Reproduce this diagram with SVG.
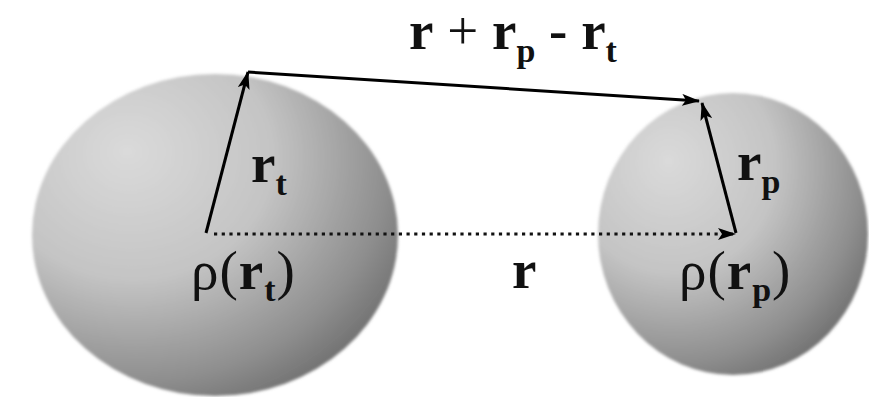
<svg xmlns="http://www.w3.org/2000/svg" width="869" height="397" viewBox="0 0 869 397">
<style>
.lbl{font-family:"Liberation Serif","Times New Roman",serif;font-size:55px;fill:#111}
.b{font-weight:bold}
.sub{font-size:34px;font-weight:bold}
.vec{stroke:#000;stroke-width:3;fill:none}
.dot{stroke:#111;stroke-width:3.2;stroke-dasharray:3.2 4.5;fill:none}
</style>
<defs>
<radialGradient id="sph" cx="0.3" cy="0.28" r="0.95" fx="0.26" fy="0.24">
<stop offset="0" stop-color="#dadada"/>
<stop offset="0.4" stop-color="#c4c4c4"/>
<stop offset="0.72" stop-color="#8e8e8e"/>
<stop offset="1" stop-color="#525252"/>
</radialGradient>
<filter id="soft" x="-5%" y="-5%" width="110%" height="110%"><feGaussianBlur stdDeviation="1.5"/></filter>
<marker id="ah" viewBox="0 0 18 12" refX="17" refY="6" markerWidth="18" markerHeight="12" markerUnits="userSpaceOnUse" orient="auto">
<path d="M0,0 L18,6 L0,12 L4,6 Z" fill="#000"/>
</marker>
</defs>
<rect width="869" height="397" fill="#fff"/>
<g id="sphere-t">
<ellipse cx="215" cy="235" rx="183" ry="161" fill="url(#sph)" filter="url(#soft)"/>
</g>
<g id="sphere-p">
<ellipse cx="733" cy="234" rx="135" ry="141" fill="url(#sph)" filter="url(#soft)"/>
</g>
<g id="connectors">
<line class="vec" x1="206" y1="233" x2="248" y2="72" marker-end="url(#ah)"/>
<line class="vec" x1="248" y1="72" x2="699" y2="101" marker-end="url(#ah)"/>
<line class="vec" x1="736" y1="233" x2="702" y2="103" marker-end="url(#ah)"/>
<line class="dot" x1="214" y1="234" x2="735" y2="234" marker-end="url(#ah)"/>
</g>
<g id="labels">
<text class="lbl" x="409" y="49"><tspan class="b">r</tspan> + <tspan class="b">r</tspan><tspan class="sub" dy="13">p</tspan><tspan dy="-13" class="b"> - </tspan><tspan class="b">r</tspan><tspan class="sub" dy="13">t</tspan></text>
<text class="lbl" x="251" y="182"><tspan class="b">r</tspan><tspan class="sub" dy="13">t</tspan></text>
<text class="lbl" x="737" y="180"><tspan class="b">r</tspan><tspan class="sub" dy="13">p</tspan></text>
<text class="lbl" x="512" y="288"><tspan class="b">r</tspan></text>
<text class="lbl" x="191" y="289" letter-spacing="1">ρ(<tspan class="b">r</tspan><tspan class="sub" dy="12">t</tspan><tspan dy="-12">)</tspan></text>
<text class="lbl" x="679" y="289" letter-spacing="1">ρ(<tspan class="b">r</tspan><tspan class="sub" dy="12">p</tspan><tspan dy="-12">)</tspan></text>
</g>
</svg>
